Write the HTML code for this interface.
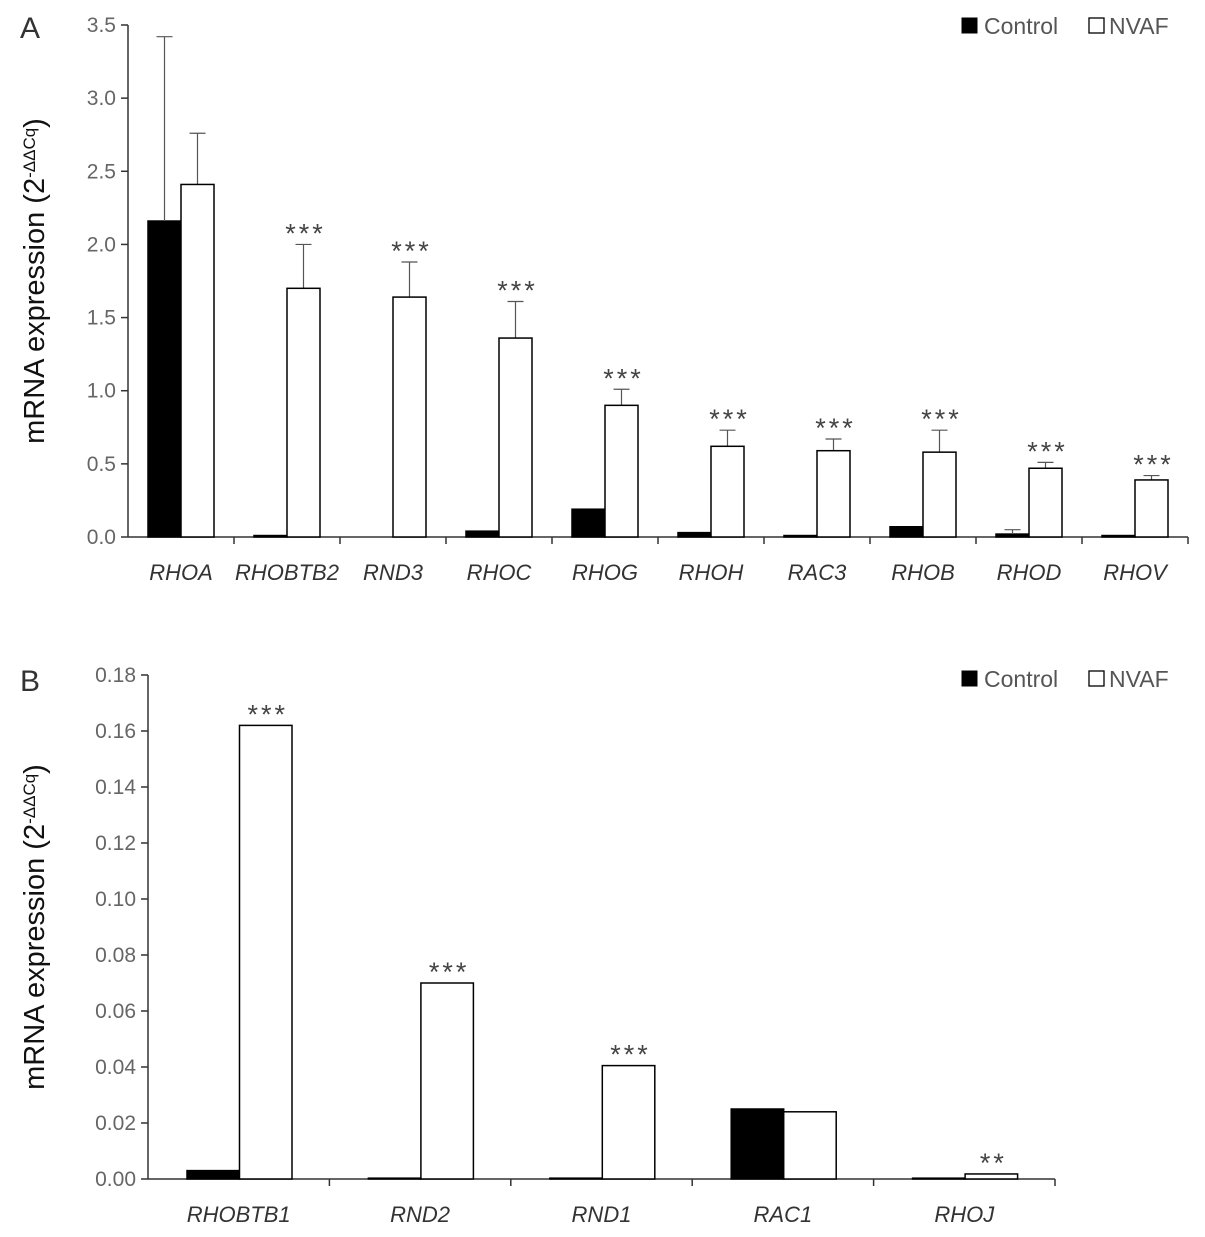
<!DOCTYPE html>
<html><head><meta charset="utf-8"><style>
body{margin:0;background:#fff}
svg{display:block;font-family:"Liberation Sans",sans-serif}
</style></head><body>
<svg id="c" width="1205" height="1237"></svg>
<script>
const catsA=["RHOA","RHOBTB2","RND3","RHOC","RHOG","RHOH","RAC3","RHOB","RHOD","RHOV"];
const ctrlA=[2.16,0.01,0,0.04,0.19,0.03,0.01,0.07,0.02,0.01];
const ctrlErrA=[3.42,0,0,0,0,0,0,0,0.05,0];
const nvafA=[2.41,1.70,1.64,1.36,0.90,0.62,0.59,0.58,0.47,0.39];
const nvafErrA=[2.76,2.00,1.88,1.61,1.01,0.73,0.67,0.73,0.51,0.42];
const starsA=["","***","***","***","***","***","***","***","***","***"];
const ticksA=["0.0","0.5","1.0","1.5","2.0","2.5","3.0","3.5"];
const catsB=["RHOBTB1","RND2","RND1","RAC1","RHOJ"];
const ctrlB=[0.003,0.0003,0.0003,0.025,0.0003];
const nvafB=[0.162,0.070,0.0405,0.024,0.0018];
const starsB=["***","***","***","","**"];
const ticksB=["0.00","0.02","0.04","0.06","0.08","0.10","0.12","0.14","0.16","0.18"];
const NS="http://www.w3.org/2000/svg";
const svg=document.getElementById('c');
function el(t,a,txt){const e=document.createElementNS(NS,t);for(const k in a)e.setAttribute(k,a[k]);if(txt!==undefined)e.textContent=txt;svg.appendChild(e);return e;}
function panel(o){
 const y=v=>o.y0-(v/o.max)*(o.y0-o.y1);
 const gw=(o.x1-o.x0)/o.cats.length;
 let ax=el('line',{x1:o.x0,y1:o.y1,x2:o.x0,y2:o.y0,stroke:'#333','stroke-width':1.5});
 
 o.ticks.forEach(t=>{const v=parseFloat(t);
  let l=el('line',{x1:o.x0-7,y1:y(v),x2:o.x0,y2:y(v),stroke:'#333','stroke-width':1.5});
  
  let tx=el('text',{x:o.x0-12,y:y(v)+7,'text-anchor':'end','font-size':21,fill:'#666'},t);
  
 });
 let xa=el('line',{x1:o.x0,y1:o.y0,x2:o.x1,y2:o.y0,stroke:'#333','stroke-width':1.5});
 
 o.cats.forEach((c,i)=>{
  const gx=o.x0+i*gw;
  let tk=el('line',{x1:gx+gw,y1:o.y0,x2:gx+gw,y2:o.y0+7,stroke:'#333','stroke-width':1.5});
  
  const bx=gx+o.off;
  const cy=y(o.ctrl[i]);
  let b1=el('rect',{x:bx,y:cy,width:o.bw,height:o.y0-cy,fill:'#000',stroke:'#000','stroke-width':1.5});
  
  if(o.ctrlErr&&o.ctrlErr[i]>o.ctrl[i]){
   const ey=y(o.ctrlErr[i]);
   let e=el('path',{d:`M${bx+o.bw/2},${cy}V${ey}M${bx+o.bw/2-8},${ey}H${bx+o.bw/2+8}`,stroke:'#555','stroke-width':1.2,fill:'none'});
   
  }
  const nx=bx+o.bw, ny=y(o.nvaf[i]);
  let top=ny;
  if(o.nvafErr){
   const ey=y(o.nvafErr[i]);top=ey;
   let e=el('path',{d:`M${nx+o.bw/2},${ny}V${ey}M${nx+o.bw/2-8},${ey}H${nx+o.bw/2+8}`,stroke:'#555','stroke-width':1.2,fill:'none'});
   
  }
  let b2=el('rect',{x:nx,y:ny,width:o.bw,height:o.y0-ny,fill:'#fff',stroke:'#000','stroke-width':1.5});
  
  if(o.stars[i]){
   let s=el('text',{x:nx+o.bw/2+2,y:top-2,'text-anchor':'middle','font-size':27,fill:'#444','letter-spacing':3},o.stars[i]);
   
  }
  let lb=el('text',{x:gx+gw/2,y:o.y0+43,'text-anchor':'middle','font-size':22,'font-style':'italic',fill:'#333'},c);
  
 });
 const my=(o.y0+o.y1)/2;
 let yt=el('text',{transform:`translate(44,${my}) rotate(-90)`,'text-anchor':'middle','font-size':29,fill:'#111'});
 
 yt.innerHTML='mRNA expression (2<tspan baseline-shift="super" font-size="17">-ΔΔCq</tspan>)';
 let L=el('text',{x:20,y:o.ly+12,'font-size':30,fill:'#333'},o.p.toUpperCase());
 
 let r1=el('rect',{x:962,y:o.ly-8,width:15,height:15,fill:'#000',stroke:'#000'});
 
 let t1=el('text',{x:984,y:o.ly+8,'font-size':23,fill:'#555'},'Control');
 
 let r2=el('rect',{x:1089,y:o.ly-8,width:15,height:15,fill:'#fff',stroke:'#000','stroke-width':1.3});
 
 let t2=el('text',{x:1109,y:o.ly+8,'font-size':23,fill:'#555'},'NVAF');
 
}
panel({p:'a',cats:catsA,ctrl:ctrlA,ctrlErr:ctrlErrA,nvaf:nvafA,nvafErr:nvafErrA,stars:starsA,ticks:ticksA,max:3.5,x0:128,x1:1188,y0:537,y1:25,off:20,bw:33,ly:26});
panel({p:'b',cats:catsB,ctrl:ctrlB,nvaf:nvafB,stars:starsB,ticks:ticksB,max:0.18,x0:148,x1:1055,y0:1179,y1:675,off:39,bw:52.5,ly:679});
</script>
</body></html>
